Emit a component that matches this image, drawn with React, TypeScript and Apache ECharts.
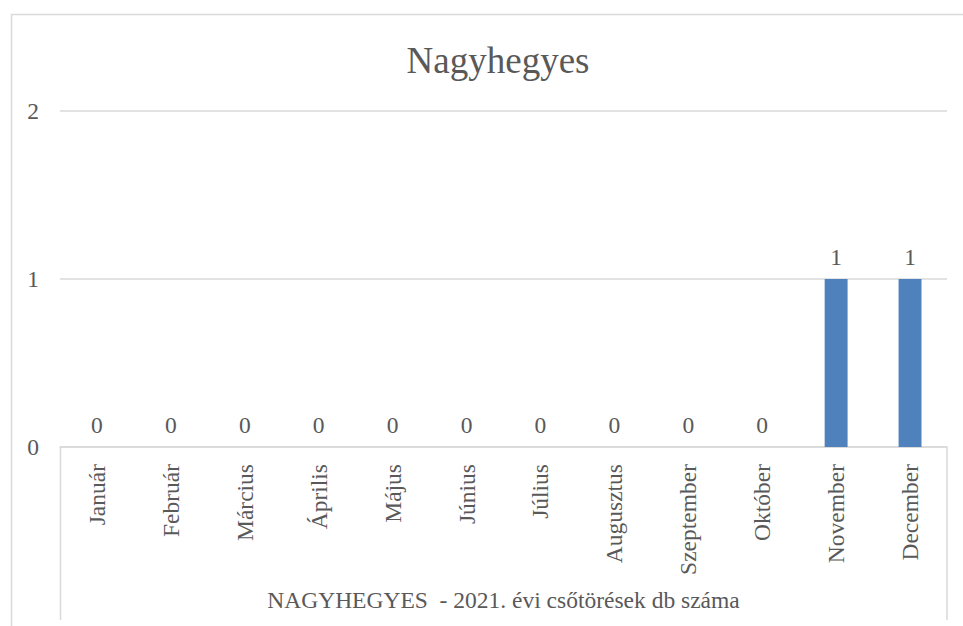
import React, { useEffect, useRef } from "react";
import * as echarts from "echarts";

const months = [
  "Január",
  "Február",
  "Március",
  "Április",
  "Május",
  "Június",
  "Július",
  "Augusztus",
  "Szeptember",
  "Október",
  "November",
  "December",
];
const breaks = [0, 0, 0, 0, 0, 0, 0, 0, 0, 0, 1, 1];
const chartTitle = "Nagyhegyes";
const axisName = "NAGYHEGYES  - 2021. évi csőtörések db száma";

const FONT = "'Liberation Serif', 'Times New Roman', serif";
const TXT = "#595959";
const LINE = "#d9d9d9";
const FS = 23.5;

export default function App() {
  const ref = useRef<HTMLDivElement>(null);
  useEffect(() => {
    if (!ref.current) return;
    const chart = echarts.init(ref.current, undefined, { renderer: "svg" });
    chart.setOption({
      animation: false,
      backgroundColor: "#ffffff",
      textStyle: { fontFamily: FONT, color: TXT },
      title: {
        text: chartTitle,
        left: 493,
        textAlign: "center",
        top: 37,
        textStyle: { fontFamily: FONT, color: TXT, fontSize: 37, fontWeight: "normal" },
      },
      grid: {
        left: 60,
        right: 16,
        top: 111,
        bottom: 179,
        containLabel: false,
        outerBoundsMode: "none",
      },
      xAxis: {
        type: "category",
        data: months,
        axisLine: { show: true, lineStyle: { color: LINE, width: 1.5 } },
        axisTick: { show: false },
        axisLabel: {
          rotate: 90,
          interval: 0,
          margin: 17,
          fontFamily: FONT,
          fontSize: FS,
          color: TXT,
        },
        name: axisName,
        nameLocation: "middle",
        nameGap: 141,
        nameTextStyle: { fontFamily: FONT, fontSize: FS, color: TXT },
      },
      yAxis: {
        type: "value",
        min: 0,
        max: 2,
        interval: 1,
        axisLine: { show: false },
        axisTick: { show: false },
        axisLabel: { margin: 21, fontFamily: FONT, fontSize: FS, color: TXT },
        splitLine: { lineStyle: { color: LINE, width: 1.5 } },
      },
      series: [
        {
          type: "bar",
          data: breaks,
          barWidth: "31%",
          itemStyle: { color: "#4f81bd" },
          label: {
            show: true,
            position: "top",
            distance: 10,
            fontFamily: FONT,
            fontSize: FS,
            color: TXT,
          },
        },
      ],
      graphic: [
        {
          type: "rect",
          shape: { x: 11.5, y: 14.5, width: 964, height: 700 },
          style: { fill: "none", stroke: LINE, lineWidth: 1.5 },
          silent: true,
        },
        {
          type: "line",
          shape: { x1: 60.5, y1: 447, x2: 60.5, y2: 620 },
          style: { stroke: LINE, lineWidth: 1.5 },
          silent: true,
        },
        {
          type: "line",
          shape: { x1: 947, y1: 447, x2: 947, y2: 620 },
          style: { stroke: LINE, lineWidth: 1.5 },
          silent: true,
        },
      ],
    });
    return () => chart.dispose();
  }, []);
  return <div ref={ref} style={{ width: 963, height: 626, position: "absolute", left: 0, top: 0 }} />;
}
